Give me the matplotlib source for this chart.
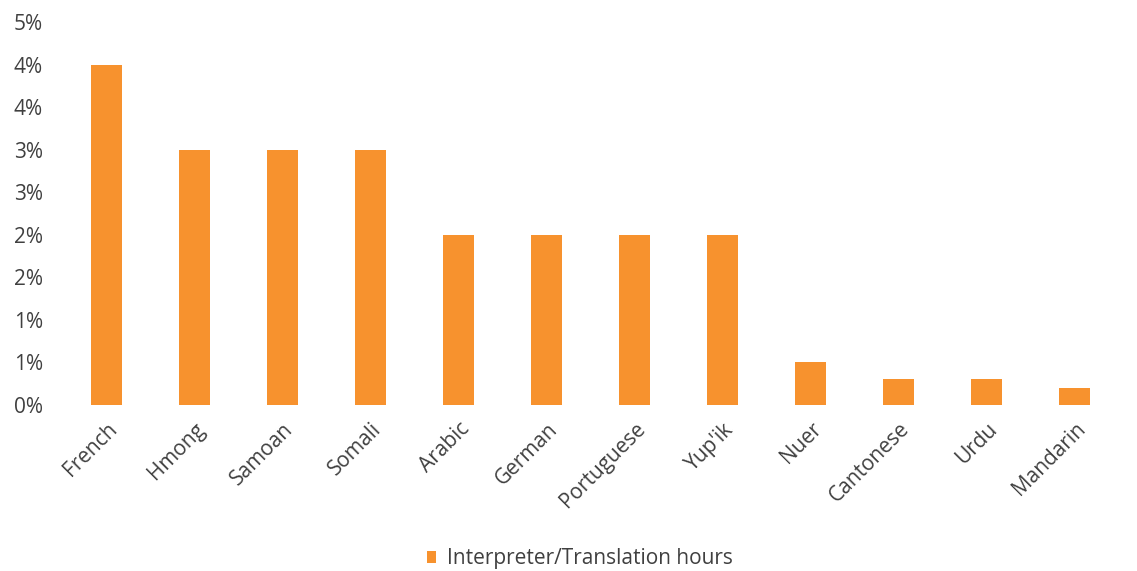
import matplotlib.pyplot as plt
import numpy as np
from matplotlib.ticker import FuncFormatter, MultipleLocator

languages = ['French', 'Hmong', 'Samoan', 'Somali', 'Arabic', 'German',
             'Portuguese', "Yup'ik", 'Nuer', 'Cantonese', 'Urdu', 'Mandarin']
share = [0.040, 0.030, 0.030, 0.030, 0.020, 0.020,
         0.020, 0.020, 0.005, 0.003, 0.003, 0.002]

plt.rcParams['font.family'] = ['Open Sans', 'DejaVu Sans']


def pct_label(v, pos):
    # excel style rounding: half goes up
    return f"{int(np.floor(v * 100 + 0.5 + 1e-9))}%"


fig = plt.figure(figsize=(11.37, 5.71), dpi=100)
ax = fig.add_axes([0.055, 0.291, 0.929, 0.670])

x = np.arange(len(languages))
ax.bar(x, share, width=0.35, color='#F7922E', label='Interpreter/Translation hours')

ax.set_xlim(-0.5, len(languages) - 0.5)
ax.set_ylim(0, 0.045)
ax.yaxis.set_major_locator(MultipleLocator(0.005))
ax.yaxis.set_major_formatter(FuncFormatter(pct_label))

ax.set_xticks(x)
ax.set_xticklabels(languages, rotation=45, ha='right', rotation_mode='anchor',
                   fontsize=15, color='#404040')
ax.tick_params(axis='y', labelsize=15, labelcolor='#404040', length=0, pad=14)
ax.tick_params(axis='x', length=0, pad=10)

for s in ax.spines.values():
    s.set_visible(False)

fig.legend(loc='lower center', bbox_to_anchor=(0.51, -0.03), frameon=False,
           fontsize=15, handlelength=0.45, handleheight=0.45, handletextpad=0.5,
           labelcolor='#404040')

fig.savefig('out.png', dpi=100)
